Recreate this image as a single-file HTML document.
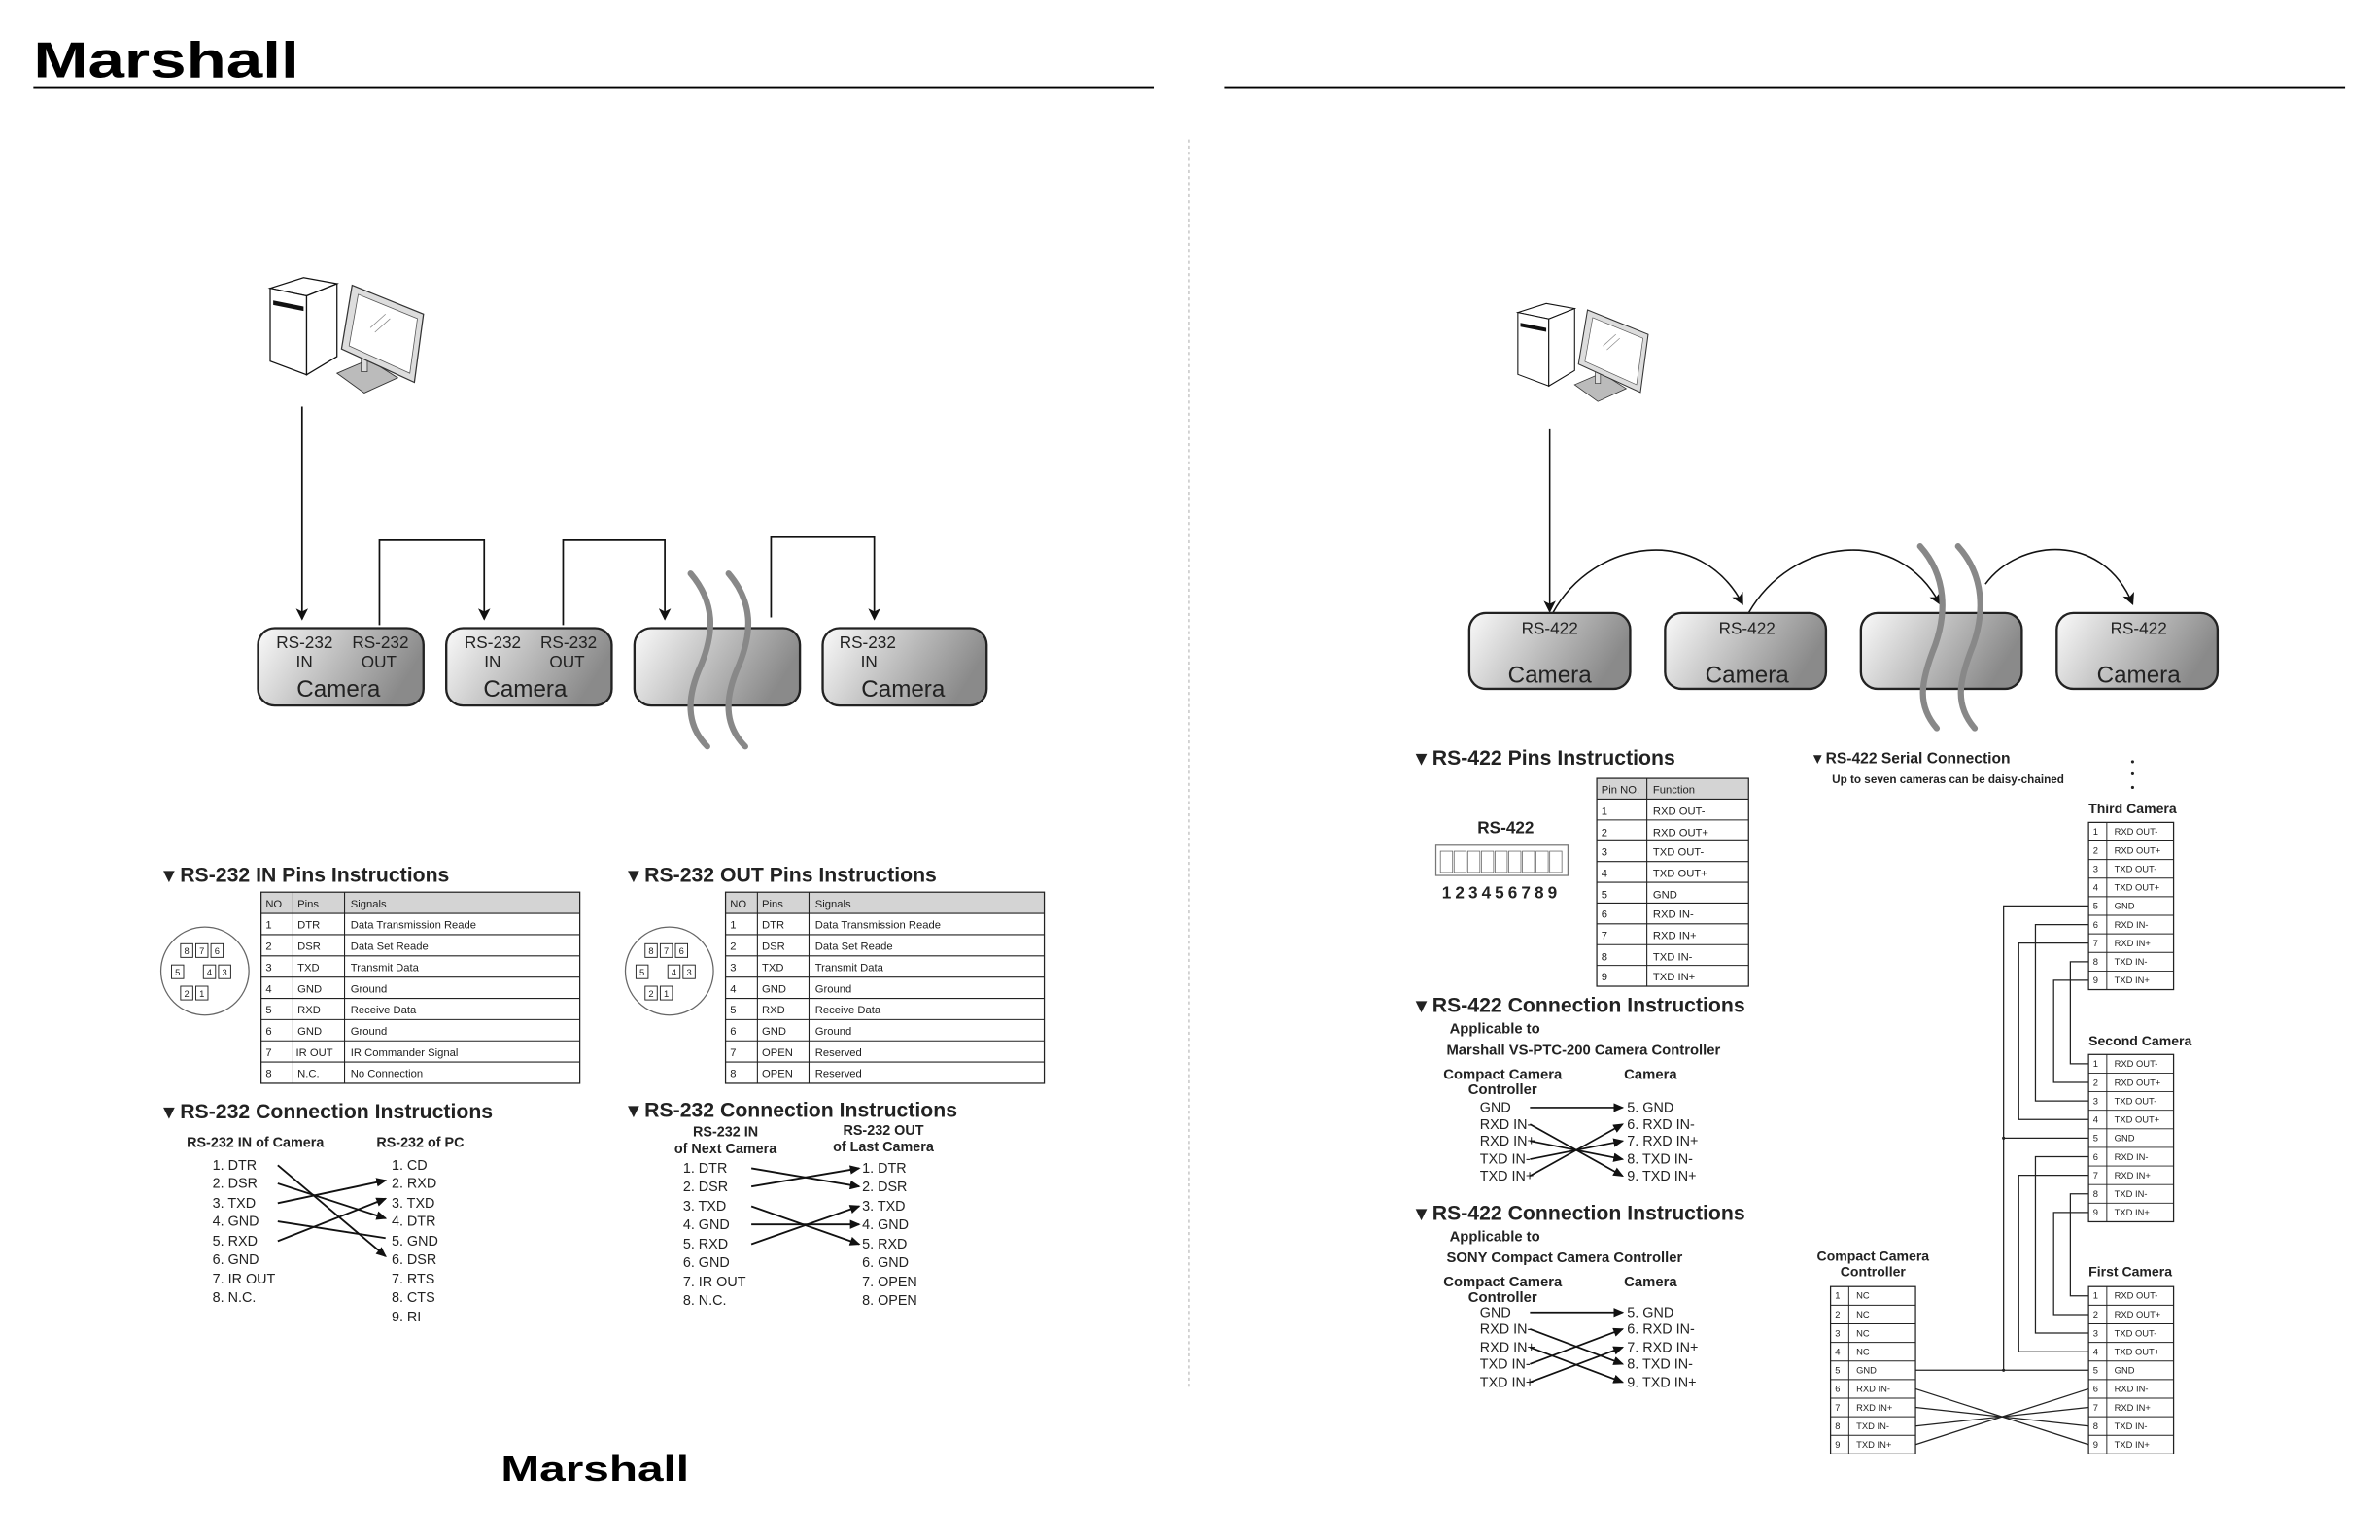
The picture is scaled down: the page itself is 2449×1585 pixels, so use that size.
<!DOCTYPE html>
<html><head><meta charset="utf-8"><style>
html,body{margin:0;padding:0;background:#fff;}
svg{display:block;}
text{font-family:"Liberation Sans Narrow","Liberation Sans",sans-serif;fill:#222;}
.h{font-weight:bold;font-size:13.6px;}
.t{font-size:7.2px;}
.l{font-size:9.2px;}
.s{font-size:6px;}
.b{font-weight:bold;}
</style></head><body>
<svg width="2449" height="1585" viewBox="0 0 1568 1015" preserveAspectRatio="none" xmlns="http://www.w3.org/2000/svg">
<defs>
<linearGradient id="cg" x1="0" y1="0" x2="1" y2="0.3"><stop offset="0" stop-color="#fafafa"/><stop offset="1" stop-color="#8a8a8a"/></linearGradient>
<marker id="ar" markerWidth="8" markerHeight="8" refX="7" refY="4" orient="auto" markerUnits="userSpaceOnUse"><path d="M0,0 L8,4 L0,8 L2,4 z" fill="#111"/></marker>
<marker id="as" markerWidth="7" markerHeight="6" refX="6" refY="3" orient="auto" markerUnits="userSpaceOnUse"><path d="M0,0 L7,3 L0,6 z" fill="#111"/></marker>
<g id="pc">
<polygon points="222,246 243,237 262,249 240,259" fill="#bbb" stroke="#333" stroke-width="0.6"/>
<rect x="238" y="232" width="4" height="13" fill="#ddd" stroke="#333" stroke-width="0.5"/>
<polygon points="178,190 200,183 222,187 202,195" fill="#fff" stroke="#111" stroke-width="0.8"/>
<polygon points="178,190 202,195 202,247 178,238" fill="#fff" stroke="#111" stroke-width="0.8"/>
<polygon points="202,195 222,187 222,235 202,247" fill="#fff" stroke="#111" stroke-width="0.8"/>
<polygon points="180,198 200,202 200,205 180,201" fill="#111"/>
<polygon points="232,188 279,207 273,252 225,230" fill="#ddd" stroke="#333" stroke-width="0.8"/>
<polygon points="236,194 275,210 270,246 230,228" fill="#fff" stroke="#555" stroke-width="0.5"/>
<path d="M244,216 L254,207 M247,219 L257,210" stroke="#888" stroke-width="0.5"/>
</g>
</defs>

<!-- header -->
<text x="22" y="51" font-size="33" font-weight="bold" textLength="175" lengthAdjust="spacingAndGlyphs" style="fill:#000;font-family:'Liberation Sans',sans-serif">Marshall</text>
<line x1="22" y1="58" x2="760" y2="58" stroke="#000" stroke-width="1.2"/>
<line x1="807" y1="58" x2="1545" y2="58" stroke="#000" stroke-width="1.2"/>
<line x1="783" y1="92" x2="783" y2="916" stroke="#bbb" stroke-width="0.8" stroke-dasharray="2,2"/>
<text x="330" y="976" font-size="23" font-weight="bold" textLength="124" lengthAdjust="spacingAndGlyphs" style="fill:#000;font-family:'Liberation Sans',sans-serif">Marshall</text>

<!-- RS-232 diagram -->
<use href="#pc"/>
<line x1="199" y1="268" x2="199" y2="408" stroke="#111" stroke-width="1.1" marker-end="url(#ar)"/>
<polyline points="250,412 250,356 319,356 319,408" fill="none" stroke="#111" stroke-width="1.1" marker-end="url(#ar)"/>
<polyline points="371,412 371,356 438,356 438,408" fill="none" stroke="#111" stroke-width="1.1" marker-end="url(#ar)"/>
<polyline points="508,407 508,354 576,354 576,408" fill="none" stroke="#111" stroke-width="1.1" marker-end="url(#ar)"/>
<g stroke="#222" stroke-width="1.5" fill="url(#cg)">
<rect x="170" y="414" width="109" height="51" rx="11"/>
<rect x="294" y="414" width="109" height="51" rx="11"/>
<rect x="418" y="414" width="109" height="51" rx="11"/>
<rect x="542" y="414" width="108" height="51" rx="11"/>
</g>
<path d="M455,378 C472,398 470,418 462,438 C452,460 452,478 466,492" fill="none" stroke="#888" stroke-width="4" stroke-linecap="round"/>
<path d="M480,378 C497,398 495,418 487,438 C477,460 477,478 491,492" fill="none" stroke="#888" stroke-width="4" stroke-linecap="round"/>
<g font-size="11">
<text x="182" y="427">RS-232</text><text x="232" y="427">RS-232</text>
<text x="195" y="440">IN</text><text x="238" y="440">OUT</text>
<text x="306" y="427">RS-232</text><text x="356" y="427">RS-232</text>
<text x="319" y="440">IN</text><text x="362" y="440">OUT</text>
<text x="553" y="427">RS-232</text><text x="567" y="440">IN</text>
</g>
<g font-size="15.5" text-anchor="middle">
<text x="223" y="459">Camera</text><text x="346" y="459">Camera</text><text x="595" y="459">Camera</text>
</g>

<!-- RS-232 IN pins -->
<text x="108" y="581" class="h">▾ RS-232 IN Pins Instructions</text>
<text x="414" y="581" class="h">▾ RS-232 OUT Pins Instructions</text>
<g id="tin">
<rect x="172" y="588" width="210" height="14" fill="#d4d4d4"/>
<rect x="172" y="588" width="210" height="126" fill="none" stroke="#222" stroke-width="0.8"/>
<g stroke="#222" stroke-width="0.7">
<line x1="193" y1="588" x2="193" y2="714"/><line x1="227" y1="588" x2="227" y2="714"/>
<line x1="172" y1="602" x2="382" y2="602"/><line x1="172" y1="616" x2="382" y2="616"/><line x1="172" y1="630" x2="382" y2="630"/><line x1="172" y1="644" x2="382" y2="644"/><line x1="172" y1="658" x2="382" y2="658"/><line x1="172" y1="672" x2="382" y2="672"/><line x1="172" y1="686" x2="382" y2="686"/><line x1="172" y1="700" x2="382" y2="700"/>
</g>
<circle cx="135" cy="640" r="29" fill="#fff" stroke="#666" stroke-width="0.8"/>
<g fill="#fff" stroke="#222" stroke-width="0.6">
<rect x="119" y="622" width="8" height="9"/><rect x="129" y="622" width="8" height="9"/><rect x="139" y="622" width="8" height="9"/>
<rect x="113" y="636" width="8" height="9"/><rect x="134" y="636" width="8" height="9"/><rect x="144" y="636" width="8" height="9"/>
<rect x="119" y="650" width="8" height="9"/><rect x="129" y="650" width="8" height="9"/>
</g>
<g class="s" text-anchor="middle">
<text x="123" y="629">8</text><text x="133" y="629">7</text><text x="143" y="629">6</text>
<text x="117" y="643">5</text><text x="138" y="643">4</text><text x="148" y="643">3</text>
<text x="123" y="657">2</text><text x="133" y="657">1</text>
</g>
</g>
<g class="t">
<text x="175" y="598">NO</text><text x="196" y="598">Pins</text><text x="231" y="598">Signals</text>
<text x="175" y="612">1</text><text x="196" y="612">DTR</text><text x="231" y="612">Data Transmission Reade</text>
<text x="175" y="626">2</text><text x="196" y="626">DSR</text><text x="231" y="626">Data Set Reade</text>
<text x="175" y="640">3</text><text x="196" y="640">TXD</text><text x="231" y="640">Transmit Data</text>
<text x="175" y="654">4</text><text x="196" y="654">GND</text><text x="231" y="654">Ground</text>
<text x="175" y="668">5</text><text x="196" y="668">RXD</text><text x="231" y="668">Receive Data</text>
<text x="175" y="682">6</text><text x="196" y="682">GND</text><text x="231" y="682">Ground</text>
<text x="175" y="696">7</text><text x="195" y="696">IR OUT</text><text x="231" y="696">IR Commander Signal</text>
<text x="175" y="710">8</text><text x="196" y="710">N.C.</text><text x="231" y="710">No Connection</text>
</g>
<use href="#tin" transform="translate(306,0)"/>
<g class="t">
<text x="481" y="598">NO</text><text x="502" y="598">Pins</text><text x="537" y="598">Signals</text>
<text x="481" y="612">1</text><text x="502" y="612">DTR</text><text x="537" y="612">Data Transmission Reade</text>
<text x="481" y="626">2</text><text x="502" y="626">DSR</text><text x="537" y="626">Data Set Reade</text>
<text x="481" y="640">3</text><text x="502" y="640">TXD</text><text x="537" y="640">Transmit Data</text>
<text x="481" y="654">4</text><text x="502" y="654">GND</text><text x="537" y="654">Ground</text>
<text x="481" y="668">5</text><text x="502" y="668">RXD</text><text x="537" y="668">Receive Data</text>
<text x="481" y="682">6</text><text x="502" y="682">GND</text><text x="537" y="682">Ground</text>
<text x="481" y="696">7</text><text x="502" y="696">OPEN</text><text x="537" y="696">Reserved</text>
<text x="481" y="710">8</text><text x="502" y="710">OPEN</text><text x="537" y="710">Reserved</text>
</g>

<!-- RS-232 connection -->
<text x="108" y="737" class="h">▾ RS-232 Connection Instructions</text>
<text x="414" y="736" class="h">▾ RS-232 Connection Instructions</text>
<g class="l b"><text x="123" y="756">RS-232 IN of  Camera</text><text x="248" y="756">RS-232 of PC</text></g>
<g class="l">
<text x="140" y="771">1. DTR</text><text x="140" y="783">2. DSR</text><text x="140" y="796">3. TXD</text><text x="140" y="808">4. GND</text><text x="140" y="821">5. RXD</text><text x="140" y="833">6. GND</text><text x="140" y="846">7. IR OUT</text><text x="140" y="858">8. N.C.</text>
<text x="258" y="771">1. CD</text><text x="258" y="783">2. RXD</text><text x="258" y="796">3. TXD</text><text x="258" y="808">4. DTR</text><text x="258" y="821">5. GND</text><text x="258" y="833">6. DSR</text><text x="258" y="846">7. RTS</text><text x="258" y="858">8. CTS</text><text x="258" y="871">9. RI</text>
</g>
<g stroke="#111" stroke-width="1.2" marker-end="url(#as)">
<line x1="183" y1="768" x2="254" y2="828"/>
<line x1="183" y1="780" x2="254" y2="803"/>
<line x1="183" y1="793" x2="254" y2="778"/>
<line x1="183" y1="805" x2="254" y2="816" marker-end="none"/>
<line x1="183" y1="818" x2="254" y2="790"/>
</g>
<g class="l b" text-anchor="middle"><text x="478" y="749">RS-232 IN</text><text x="478" y="760">of Next Camera</text><text x="582" y="748">RS-232 OUT</text><text x="582" y="759">of Last Camera</text></g>
<g class="l">
<text x="450" y="773">1. DTR</text><text x="450" y="785">2. DSR</text><text x="450" y="798">3. TXD</text><text x="450" y="810">4. GND</text><text x="450" y="823">5. RXD</text><text x="450" y="835">6. GND</text><text x="450" y="848">7. IR OUT</text><text x="450" y="860">8. N.C.</text>
<text x="568" y="773">1. DTR</text><text x="568" y="785">2. DSR</text><text x="568" y="798">3. TXD</text><text x="568" y="810">4. GND</text><text x="568" y="823">5. RXD</text><text x="568" y="835">6. GND</text><text x="568" y="848">7. OPEN</text><text x="568" y="860">8. OPEN</text>
</g>
<g stroke="#111" stroke-width="1.2" marker-end="url(#as)">
<line x1="495" y1="770" x2="566" y2="782"/>
<line x1="495" y1="782" x2="566" y2="770"/>
<line x1="495" y1="795" x2="566" y2="820"/>
<line x1="495" y1="807" x2="566" y2="807"/>
<line x1="495" y1="820" x2="566" y2="795"/>
</g>

<!-- RS-422 diagram -->
<use href="#pc" transform="translate(1000,200) scale(0.85) translate(-178,-183)"/>
<line x1="1021" y1="283" x2="1021" y2="403" stroke="#111" stroke-width="1" marker-end="url(#ar)"/>
<g fill="none" stroke="#111" stroke-width="1" marker-end="url(#ar)">
<path d="M1023,404 C1050,355 1120,345 1148,398"/>
<path d="M1152,404 C1180,355 1250,345 1278,398"/>
<path d="M1308,385 C1330,355 1385,350 1405,398"/>
</g>
<g stroke="#222" stroke-width="1.5" fill="url(#cg)">
<rect x="968" y="404" width="106" height="50" rx="11"/>
<rect x="1097" y="404" width="106" height="50" rx="11"/>
<rect x="1226" y="404" width="106" height="50" rx="11"/>
<rect x="1355" y="404" width="106" height="50" rx="11"/>
</g>
<path d="M1265,360 C1283,380 1282,405 1275,425 C1265,450 1263,465 1276,480" fill="none" stroke="#888" stroke-width="4" stroke-linecap="round"/>
<path d="M1290,360 C1308,380 1307,405 1300,425 C1290,450 1288,465 1301,480" fill="none" stroke="#888" stroke-width="4" stroke-linecap="round"/>
<g font-size="11" text-anchor="middle"><text x="1021" y="418">RS-422</text><text x="1151" y="418">RS-422</text><text x="1409" y="418">RS-422</text></g>
<g font-size="15.5" text-anchor="middle"><text x="1021" y="450">Camera</text><text x="1151" y="450">Camera</text><text x="1409" y="450">Camera</text></g>

<!-- RS-422 pins -->
<text x="933" y="504" class="h">▾ RS-422 Pins Instructions</text>
<text x="992" y="549" font-size="11" class="b" text-anchor="middle">RS-422</text>
<rect x="946" y="557" width="87" height="20" fill="#fff" stroke="#777" stroke-width="0.8"/>
<g fill="#fff" stroke="#666" stroke-width="0.5">
<rect x="949" y="561" width="8" height="14"/><rect x="958" y="561" width="8" height="14"/><rect x="967" y="561" width="8" height="14"/><rect x="976" y="561" width="8" height="14"/><rect x="985" y="561" width="8" height="14"/><rect x="994" y="561" width="8" height="14"/><rect x="1003" y="561" width="8" height="14"/><rect x="1012" y="561" width="8" height="14"/><rect x="1021" y="561" width="8" height="14"/>
</g>
<text x="950" y="592" font-size="11" class="b" letter-spacing="2.6">123456789</text>
<rect x="1052" y="513" width="100" height="13.7" fill="#d4d4d4"/>
<rect x="1052" y="513" width="100" height="137" fill="none" stroke="#222" stroke-width="0.8"/>
<g stroke="#222" stroke-width="0.7">
<line x1="1085" y1="513" x2="1085" y2="650"/>
<line x1="1052" y1="526.7" x2="1152" y2="526.7"/><line x1="1052" y1="540.4" x2="1152" y2="540.4"/><line x1="1052" y1="554.1" x2="1152" y2="554.1"/><line x1="1052" y1="567.8" x2="1152" y2="567.8"/><line x1="1052" y1="581.5" x2="1152" y2="581.5"/><line x1="1052" y1="595.2" x2="1152" y2="595.2"/><line x1="1052" y1="608.9" x2="1152" y2="608.9"/><line x1="1052" y1="622.6" x2="1152" y2="622.6"/><line x1="1052" y1="636.3" x2="1152" y2="636.3"/>
</g>
<g class="t">
<text x="1055" y="523">Pin NO.</text><text x="1089" y="523">Function</text>
<text x="1055" y="537">1</text><text x="1089" y="537">RXD OUT-</text>
<text x="1055" y="551">2</text><text x="1089" y="551">RXD OUT+</text>
<text x="1055" y="564">3</text><text x="1089" y="564">TXD OUT-</text>
<text x="1055" y="578">4</text><text x="1089" y="578">TXD OUT+</text>
<text x="1055" y="592">5</text><text x="1089" y="592">GND</text>
<text x="1055" y="605">6</text><text x="1089" y="605">RXD IN-</text>
<text x="1055" y="619">7</text><text x="1089" y="619">RXD IN+</text>
<text x="1055" y="633">8</text><text x="1089" y="633">TXD IN-</text>
<text x="1055" y="646">9</text><text x="1089" y="646">TXD IN+</text>
</g>

<!-- RS-422 connection 1 -->
<text x="933" y="667" class="h">▾ RS-422 Connection Instructions</text>
<g font-size="9.5" class="b"><text x="955" y="681">Applicable to</text><text x="953" y="695">Marshall VS-PTC-200  Camera Controller</text>
<text x="990" y="711" text-anchor="middle">Compact Camera</text><text x="990" y="721" text-anchor="middle">Controller</text><text x="1070" y="711">Camera</text></g>
<g class="l">
<text x="975" y="733">GND</text><text x="975" y="744">RXD IN-</text><text x="975" y="755">RXD IN+</text><text x="975" y="767">TXD IN-</text><text x="975" y="778">TXD IN+</text>
<text x="1072" y="733">5. GND</text><text x="1072" y="744">6. RXD IN-</text><text x="1072" y="755">7. RXD IN+</text><text x="1072" y="767">8. TXD IN-</text><text x="1072" y="778">9. TXD IN+</text>
</g>
<g stroke="#111" stroke-width="1.1" marker-end="url(#as)">
<line x1="1008" y1="730" x2="1069" y2="730"/>
<line x1="1008" y1="741" x2="1069" y2="775"/>
<line x1="1008" y1="752" x2="1069" y2="764"/>
<line x1="1008" y1="764" x2="1069" y2="752"/>
<line x1="1008" y1="775" x2="1069" y2="741"/>
</g>

<!-- RS-422 connection 2 -->
<text x="933" y="804" class="h">▾ RS-422 Connection Instructions</text>
<g font-size="9.5" class="b"><text x="955" y="818">Applicable to</text><text x="953" y="832">SONY Compact Camera Controller</text>
<text x="990" y="848" text-anchor="middle">Compact Camera</text><text x="990" y="858" text-anchor="middle">Controller</text><text x="1070" y="848">Camera</text></g>
<g class="l">
<text x="975" y="868">GND</text><text x="975" y="879">RXD IN-</text><text x="975" y="891">RXD IN+</text><text x="975" y="902">TXD IN-</text><text x="975" y="914">TXD IN+</text>
<text x="1072" y="868">5. GND</text><text x="1072" y="879">6. RXD IN-</text><text x="1072" y="891">7. RXD IN+</text><text x="1072" y="902">8. TXD IN-</text><text x="1072" y="914">9. TXD IN+</text>
</g>
<g stroke="#111" stroke-width="1.1" marker-end="url(#as)">
<line x1="1008" y1="865" x2="1069" y2="865"/>
<line x1="1008" y1="876" x2="1069" y2="899"/>
<line x1="1008" y1="888" x2="1069" y2="911"/>
<line x1="1008" y1="899" x2="1069" y2="876"/>
<line x1="1008" y1="911" x2="1069" y2="888"/>
</g>

<!-- Serial connection -->
<text x="1195" y="503" font-size="10" class="b">▾ RS-422 Serial Connection</text>
<text x="1207" y="516" font-size="7.5" class="b">Up to seven cameras can be daisy-chained</text>
<g fill="#222"><circle cx="1405" cy="502" r="1"/><circle cx="1405" cy="510" r="1"/><circle cx="1405" cy="519" r="1"/></g>
<g font-size="9" class="b">
<text x="1376" y="536">Third Camera</text><text x="1376" y="689">Second Camera</text><text x="1376" y="841">First Camera</text>
<text x="1234" y="831" text-anchor="middle">Compact Camera</text><text x="1234" y="841" text-anchor="middle">Controller</text>
</g>
<g id="st">
<rect x="1376" y="542" width="56" height="110.25" fill="#fff" stroke="#222" stroke-width="0.8"/>
<g stroke="#222" stroke-width="0.6">
<line x1="1388" y1="542" x2="1388" y2="652.25"/>
<line x1="1376" y1="554.25" x2="1432" y2="554.25"/><line x1="1376" y1="566.5" x2="1432" y2="566.5"/><line x1="1376" y1="578.75" x2="1432" y2="578.75"/><line x1="1376" y1="591" x2="1432" y2="591"/><line x1="1376" y1="603.25" x2="1432" y2="603.25"/><line x1="1376" y1="615.5" x2="1432" y2="615.5"/><line x1="1376" y1="627.75" x2="1432" y2="627.75"/><line x1="1376" y1="640" x2="1432" y2="640"/>
</g>
<g class="s">
<text x="1379" y="550">1</text><text x="1393" y="550">RXD OUT-</text>
<text x="1379" y="562.5">2</text><text x="1393" y="562.5">RXD OUT+</text>
<text x="1379" y="574.7">3</text><text x="1393" y="574.7">TXD OUT-</text>
<text x="1379" y="587">4</text><text x="1393" y="587">TXD OUT+</text>
<text x="1379" y="599.2">5</text><text x="1393" y="599.2">GND</text>
<text x="1379" y="611.5">6</text><text x="1393" y="611.5">RXD IN-</text>
<text x="1379" y="623.7">7</text><text x="1393" y="623.7">RXD IN+</text>
<text x="1379" y="636">8</text><text x="1393" y="636">TXD IN-</text>
<text x="1379" y="648.2">9</text><text x="1393" y="648.2">TXD IN+</text>
</g>
</g>
<use href="#st" transform="translate(0,153)"/>
<use href="#st" transform="translate(0,306)"/>
<rect x="1206" y="848" width="56" height="110.25" fill="#fff" stroke="#222" stroke-width="0.8"/>
<g stroke="#222" stroke-width="0.6">
<line x1="1218" y1="848" x2="1218" y2="958.25"/>
<line x1="1206" y1="860.25" x2="1262" y2="860.25"/><line x1="1206" y1="872.5" x2="1262" y2="872.5"/><line x1="1206" y1="884.75" x2="1262" y2="884.75"/><line x1="1206" y1="897" x2="1262" y2="897"/><line x1="1206" y1="909.25" x2="1262" y2="909.25"/><line x1="1206" y1="921.5" x2="1262" y2="921.5"/><line x1="1206" y1="933.75" x2="1262" y2="933.75"/><line x1="1206" y1="946" x2="1262" y2="946"/>
</g>
<g class="s">
<text x="1209" y="856">1</text><text x="1223" y="856">NC</text>
<text x="1209" y="868.5">2</text><text x="1223" y="868.5">NC</text>
<text x="1209" y="880.7">3</text><text x="1223" y="880.7">NC</text>
<text x="1209" y="893">4</text><text x="1223" y="893">NC</text>
<text x="1209" y="905.2">5</text><text x="1223" y="905.2">GND</text>
<text x="1209" y="917.5">6</text><text x="1223" y="917.5">RXD IN-</text>
<text x="1209" y="929.7">7</text><text x="1223" y="929.7">RXD IN+</text>
<text x="1209" y="942">8</text><text x="1223" y="942">TXD IN-</text>
<text x="1209" y="954.2">9</text><text x="1223" y="954.2">TXD IN+</text>
</g>
<g fill="none" stroke="#222" stroke-width="0.8">
<polyline points="1376,597.1 1320,597.1 1320,903.1"/>
<line x1="1320" y1="750.1" x2="1376" y2="750.1"/>
<line x1="1262" y1="903.1" x2="1376" y2="903.1"/>
<polyline points="1376,609.4 1341,609.4 1341,725.6 1376,725.6"/>
<polyline points="1376,621.6 1330,621.6 1330,737.9 1376,737.9"/>
<polyline points="1376,633.9 1364,633.9 1364,701.1 1376,701.1"/>
<polyline points="1376,646.1 1353,646.1 1353,713.4 1376,713.4"/>
<polyline points="1376,762.4 1341,762.4 1341,878.6 1376,878.6"/>
<polyline points="1376,774.6 1330,774.6 1330,890.9 1376,890.9"/>
<polyline points="1376,786.9 1364,786.9 1364,854.1 1376,854.1"/>
<polyline points="1376,799.1 1353,799.1 1353,866.4 1376,866.4"/>
<line x1="1262" y1="915.4" x2="1376" y2="952.1"/>
<line x1="1262" y1="927.6" x2="1376" y2="939.9"/>
<line x1="1262" y1="939.9" x2="1376" y2="927.6"/>
<line x1="1262" y1="952.1" x2="1376" y2="915.4"/>
</g>
<g fill="#222"><circle cx="1320" cy="750.1" r="1"/><circle cx="1320" cy="903.1" r="1"/></g>
</svg>
</body></html>
